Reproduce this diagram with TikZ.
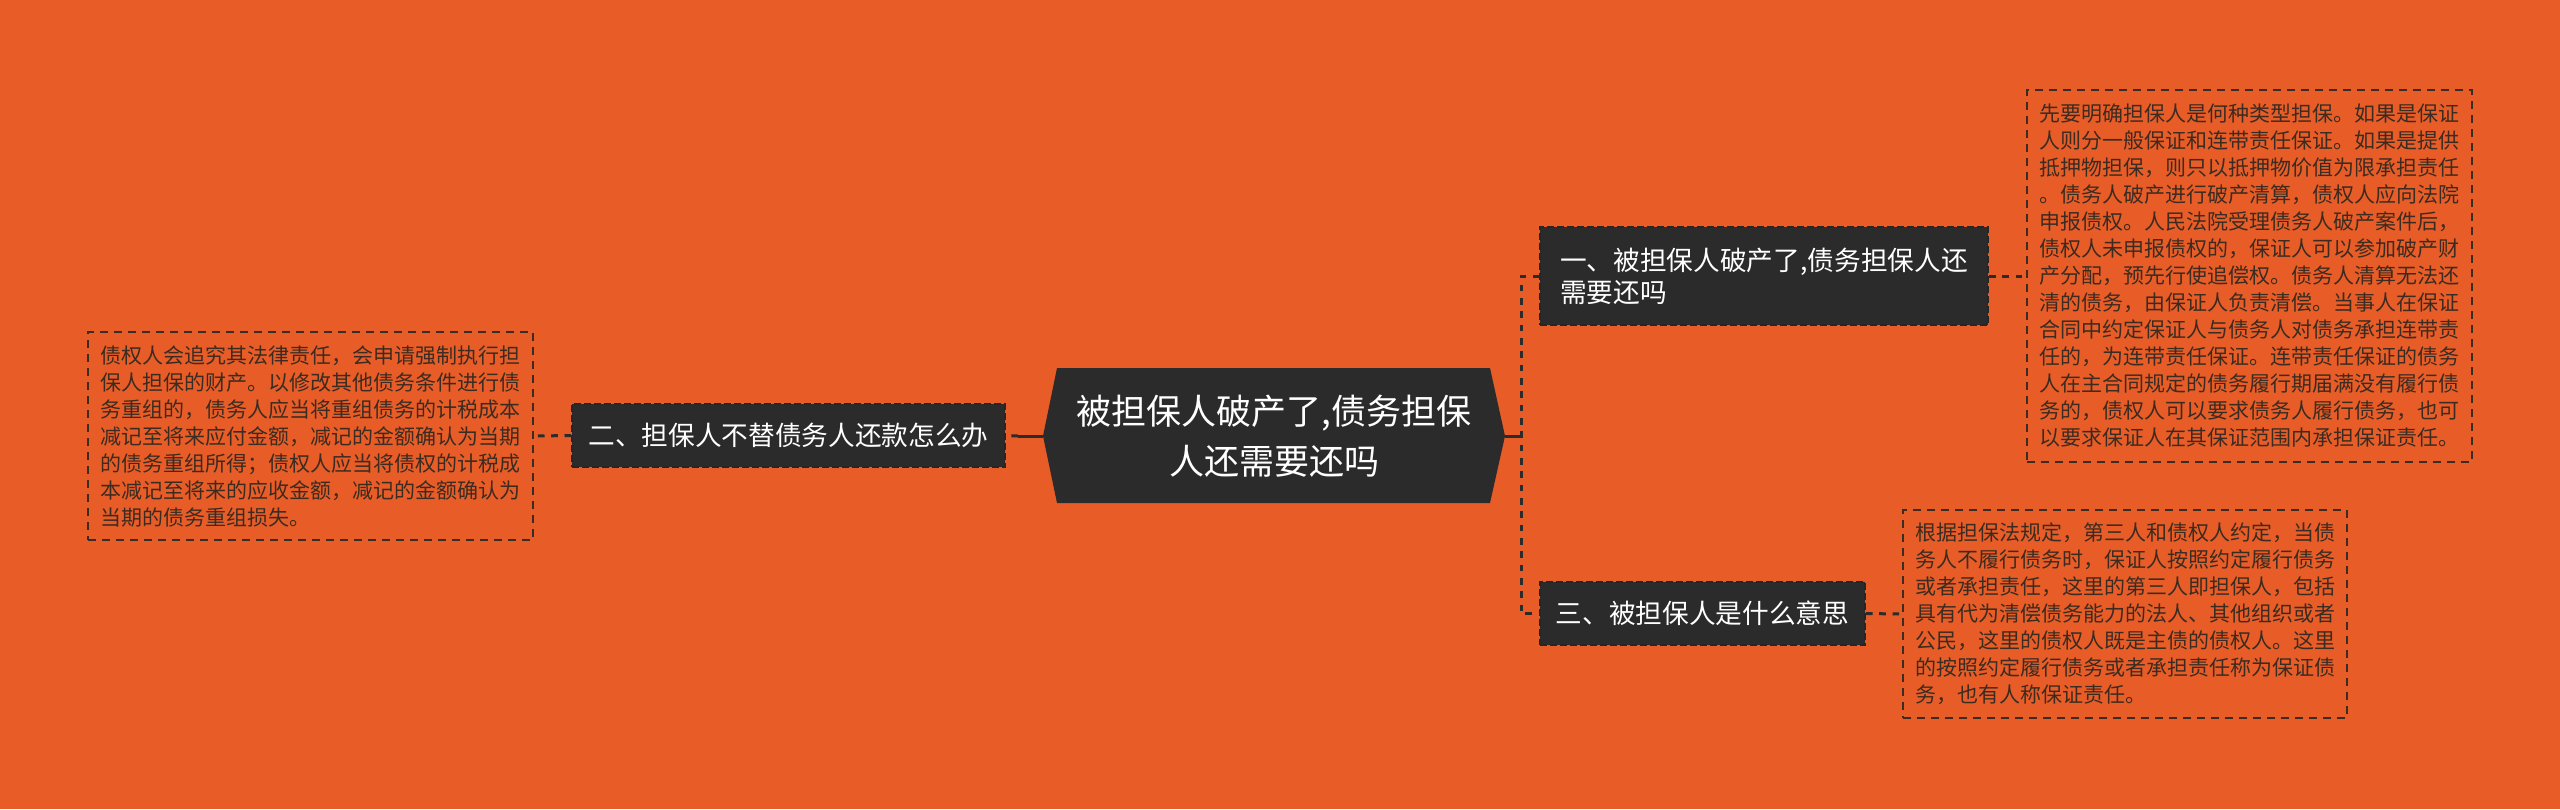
\documentclass[tikz,border=0pt]{standalone}
\usepackage{fontspec}
\setmainfont{Noto Sans CJK SC}
\definecolor{bgor}{HTML}{E85D27}
\definecolor{nodefill}{HTML}{2B2B2B}
\definecolor{txtdark}{HTML}{3B2B20}
\definecolor{conncol}{HTML}{2B2B2B}
\tikzset{
  centertext/.style={text=white, font=\fontsize{10.5pt}{15pt}\selectfont, align=center, inner sep=0pt},
  branchbox/.style={fill=nodefill, draw=black!85, dashed, line width=0.5pt, dash pattern=on 2pt off 1pt, text=white, font=\fontsize{8pt}{9.6pt}\selectfont, align=left, inner sep=0pt, minimum height=18.9pt},
  notebox/.style={draw=txtdark, line width=0.6pt, dash pattern=on 2.4pt off 1.8pt, text=txtdark, font=\fontsize{6.3pt}{8.1pt}\selectfont, align=left, inner sep=0pt},
  conn/.style={draw=conncol, line width=0.9pt},
  dconn/.style={conn, dash pattern=on 2pt off 2pt}
}
\begin{document}
\begin{tikzpicture}[x=0.3pt,y=-0.3pt]
\fill[bgor] (0,0) rectangle (2560,809);
\useasboundingbox (0,0) rectangle (2560,809);
% center hexagon
\fill[nodefill] (1043,436) -- (1057,368) -- (1490,368) -- (1505,436) -- (1490,503) -- (1057,503) -- cycle;
\coordinate (cW) at (1043,436);
\coordinate (cE) at (1505,436);
\node[centertext] (ctext) at (1274,436) {被担保人破产了,债务担保\\人还需要还吗};
% branches
\node[branchbox, minimum width=134.4pt, minimum height=29.4pt] (b1) at (1764,276) {一、被担保人破产了,债务担保人还\\需要还吗};
\node[branchbox, minimum width=129.9pt] (b2) at (788.5,435.5) {二、担保人不替债务人还款怎么办};
\node[branchbox, minimum width=97.5pt] (b3) at (1702.5,613.5) {三、被担保人是什么意思};
% note boxes
\node[notebox, minimum width=133.5pt, minimum height=111.6pt] (t1) at (2249.5,276) {先要明确担保人是何种类型担保。如果是保证\\人则分一般保证和连带责任保证。如果是提供\\抵押物担保，则只以抵押物价值为限承担责任\\。债务人破产进行破产清算，债权人应向法院\\申报债权。人民法院受理债务人破产案件后，\\债权人未申报债权的，保证人可以参加破产财\\产分配，预先行使追偿权。债务人清算无法还\\清的债务，由保证人负责清偿。当事人在保证\\合同中约定保证人与债务人对债务承担连带责\\任的，为连带责任保证。连带责任保证的债务\\人在主合同规定的债务履行期届满没有履行债\\务的，债权人可以要求债务人履行债务，也可\\以要求保证人在其保证范围内承担保证责任。};
\node[notebox, minimum width=133.2pt, minimum height=62.4pt] (t2) at (2125,614) {根据担保法规定，第三人和债权人约定，当债\\务人不履行债务时，保证人按照约定履行债务\\或者承担责任，这里的第三人即担保人，包括\\具有代为清偿债务能力的法人、其他组织或者\\公民，这里的债权人既是主债的债权人。这里\\的按照约定履行债务或者承担责任称为保证债\\务，也有人称保证责任。};
\node[notebox, minimum width=133.5pt, minimum height=62.4pt] (t3) at (310.5,436) {债权人会追究其法律责任，会申请强制执行担\\保人担保的财产。以修改其他债务条件进行债\\务重组的，债务人应当将重组债务的计税成本\\减记至将来应付金额，减记的金额确认为当期\\的债务重组所得；债权人应当将债权的计税成\\本减记至将来的应收金额，减记的金额确认为\\当期的债务重组损失。};
% connectors
\coordinate (jR) at (1521,436);
\coordinate (jL) at (1018,436);
\draw[conn] (cE) -- (jR);
\draw[dconn] (b1.west) -| (jR) |- (b3.west);
\draw[conn] (cW) -- (jL);
\draw[dconn] (jL) -- (b2.east);
\draw[dconn] (b2.west) -- (t3.east);
\draw[dconn] (b1.east) -- (t1.west);
\draw[dconn] (b3.east) -- (t2.west);
\end{tikzpicture}
\end{document}
